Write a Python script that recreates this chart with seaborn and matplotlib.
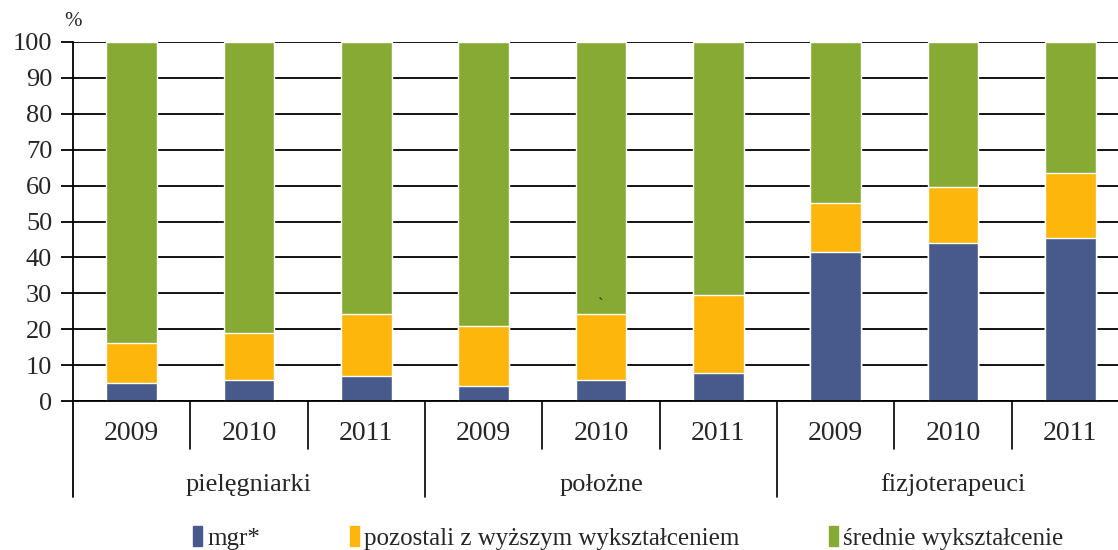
import numpy as np
import pandas as pd
import matplotlib.pyplot as plt
import seaborn as sns
from matplotlib.patches import Patch
from matplotlib.lines import Line2D

# values (%)
groups = ['pielęgniarki', 'położne', 'fizjoterapeuci']
years = ['2009', '2010', '2011']
mgr = [4.9, 5.9, 7.0, 4.3, 5.8, 7.8, 41.4, 44.1, 45.5]
pozostali = [11.2, 13.0, 17.2, 16.7, 18.4, 21.7, 13.8, 15.4, 17.9]
srednie = [83.9, 81.1, 75.8, 79.0, 75.8, 70.5, 44.8, 40.5, 36.6]

c_mgr = '#475A8B'
c_poz = '#FDB60B'
c_sre = '#87AA35'

df = pd.DataFrame({
    'kat': [g + ' ' + y for g in groups for y in years],
    'mgr': mgr,
    'pozostali': pozostali,
    'srednie': srednie,
})
df['cum2'] = df['mgr'] + df['pozostali']
df['cum3'] = df['cum2'] + df['srednie']

sns.set_style('white')
plt.rcParams['font.family'] = ['Liberation Serif', 'DejaVu Serif']

fig = plt.figure(figsize=(11.18, 5.5), dpi=100)
ax = fig.add_axes([73 / 1118, 1 - 401 / 550, 1056 / 1118, 359 / 550])

# stacked bars: draw the cumulative layers from the top down
sns.barplot(data=df, x='kat', y='cum3', color=c_sre, width=0.43, saturation=1, ax=ax)
sns.barplot(data=df, x='kat', y='cum2', color=c_poz, width=0.43, saturation=1, ax=ax)
sns.barplot(data=df, x='kat', y='mgr', color=c_mgr, width=0.43, saturation=1, ax=ax)

ax.set_xlim(-0.5, 8.5)
ax.set_ylim(0, 100)
ax.set_yticks(range(0, 101, 10))
ax.yaxis.grid(True, color='black', linewidth=1.3)
ax.set_axisbelow(True)
ax.set_xlabel('')
ax.set_ylabel('')
ax.set_xticks([])
for s in ['top', 'right']:
    ax.spines[s].set_visible(False)
ax.spines['left'].set_color('black')
ax.spines['bottom'].set_color('black')
ax.spines['left'].set_linewidth(1.3)
ax.spines['bottom'].set_linewidth(1.3)
ax.tick_params(axis='y', direction='out', length=9, width=1.3, color='black',
               labelsize=19, pad=6, left=True)

# "%" unit label
ax.text(0, 1.03, '%', transform=ax.transAxes, ha='center', va='bottom', fontsize=15)

# stray mark in the source
ax.text(4.0, 24.5, '`', ha='center', va='bottom', fontsize=12)

# two-level category axis below the plot
trans = ax.get_xaxis_transform()
px = 1 / 359  # one pixel in axes y fraction
for i in range(9):
    g, y = divmod(i, 3)
    ax.text(i, -33 * px, years[y], transform=trans, ha='center', va='center', fontsize=20)
    if i > 0:
        top = -96 * px if y == 0 else -48 * px
        ax.add_line(Line2D([i - 0.5, i - 0.5], [0, top], transform=trans,
                           color='black', lw=1.2, clip_on=False))
for g in range(3):
    ax.text(g * 3 + 1, -84 * px, groups[g], transform=trans, ha='center', va='center', fontsize=19)
ax.add_line(Line2D([-0.5, -0.5], [0, -96 * px], transform=trans,
                   color='black', lw=1.3, clip_on=False))

handles = [Patch(color=c_mgr, label='mgr*'),
           Patch(color=c_poz, label='pozostali z wyższym wykształceniem'),
           Patch(color=c_sre, label='średnie wykształcenie')]
fig.legend(handles=handles, loc='center', bbox_to_anchor=(0.562, 1 - 538 / 550), ncol=3,
           frameon=False, fontsize=18, handlelength=0.35, handleheight=0.8,
           handletextpad=0.2, columnspacing=3.6)

fig.savefig('out.png', dpi=100)
